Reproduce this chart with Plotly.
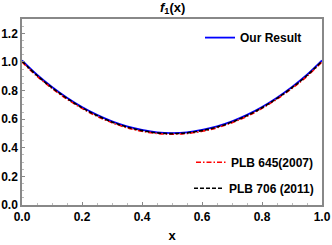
import plotly.graph_objects as go

x_vals = [0.0, 0.05, 0.1, 0.15, 0.2, 0.25, 0.3, 0.35, 0.4, 0.45, 0.5,
          0.55, 0.6, 0.65, 0.7, 0.75, 0.8, 0.85, 0.9, 0.95, 1.0]
our_result = [1.01, 0.91, 0.825, 0.75, 0.685, 0.63, 0.585, 0.55, 0.525, 0.508, 0.503,
              0.508, 0.525, 0.55, 0.585, 0.63, 0.685, 0.75, 0.825, 0.91, 1.01]
plb645 = [1.0, 0.9, 0.815, 0.74, 0.675, 0.62, 0.575, 0.54, 0.515, 0.5, 0.495,
          0.5, 0.515, 0.54, 0.575, 0.62, 0.675, 0.74, 0.815, 0.9, 1.0]
plb706 = [1.005, 0.905, 0.82, 0.745, 0.68, 0.625, 0.58, 0.545, 0.52, 0.504, 0.499,
          0.504, 0.52, 0.545, 0.58, 0.625, 0.68, 0.745, 0.82, 0.905, 1.005]

fam = "Liberation Sans, Arial, sans-serif"
font = dict(family=fam, size=12, color="black")

fig = go.Figure()
fig.add_trace(go.Scatter(x=x_vals, y=our_result, mode="lines", line=dict(color="blue", width=1.8),
                         name="<b>Our Result</b>", legend="legend", line_shape="spline", showlegend=True))
fig.add_trace(go.Scatter(x=x_vals, y=plb645, mode="lines",
                         line=dict(color="red", width=1.6, dash="5px,2px,1.5px,2px"),
                         name="<b>PLB 645(2007)</b>", legend="legend2", line_shape="spline", showlegend=True))
fig.add_trace(go.Scatter(x=x_vals, y=plb706, mode="lines",
                         line=dict(color="black", width=1.6, dash="4px,2px"),
                         name="<b>PLB 706 (2011)</b>", legend="legend3", line_shape="spline", showlegend=True))

axis_common = dict(showgrid=False, zeroline=False, showline=True, linecolor="#888888", linewidth=1.5,
                   mirror=True, ticks="inside", ticklen=3, tickcolor="#888888", automargin=False,
                   tickfont=dict(family=fam, size=12, color="black"),
                   minor=dict(ticks="inside", ticklen=2, tickcolor="#bbbbbb", dtick=0.05))

leg = dict(xanchor="right", yanchor="middle", bgcolor="rgba(0,0,0,0)", font=dict(family=fam, size=12),
           borderwidth=0)

fig.update_layout(
    width=332, height=245,
    margin=dict(l=22, r=10, t=19, b=40),
    paper_bgcolor="white", plot_bgcolor="white",
    font=font,
    showlegend=True,
    title=dict(text="<b><i>f</i><sub>1</sub>(x)</b>", x=0.52, xanchor="center", y=0.99, yanchor="top",
               font=dict(family=fam, size=13)),
    xaxis=dict(range=[0, 1], dtick=0.2, tickformat=".1f",
               title=dict(text="<b>x</b>", standoff=8, font=dict(family=fam, size=13)), **axis_common),
    yaxis=dict(range=[0, 1.3], dtick=0.2, tickformat=".1f", ticklabelstandoff=0, **axis_common),
    legend=dict(x=0.95, y=0.90, **leg),
    legend2=dict(x=0.99, y=0.23, **leg),
    legend3=dict(x=0.99, y=0.09, **leg),
)
fig.update_xaxes(tickprefix="<b>", ticksuffix="</b>")
fig.update_yaxes(tickprefix="<b>", ticksuffix="</b>")

fig.write_html("out.html", config={"displayModeBar": False},
               post_script="document.body.style.margin='0';document.body.style.padding='0';")
